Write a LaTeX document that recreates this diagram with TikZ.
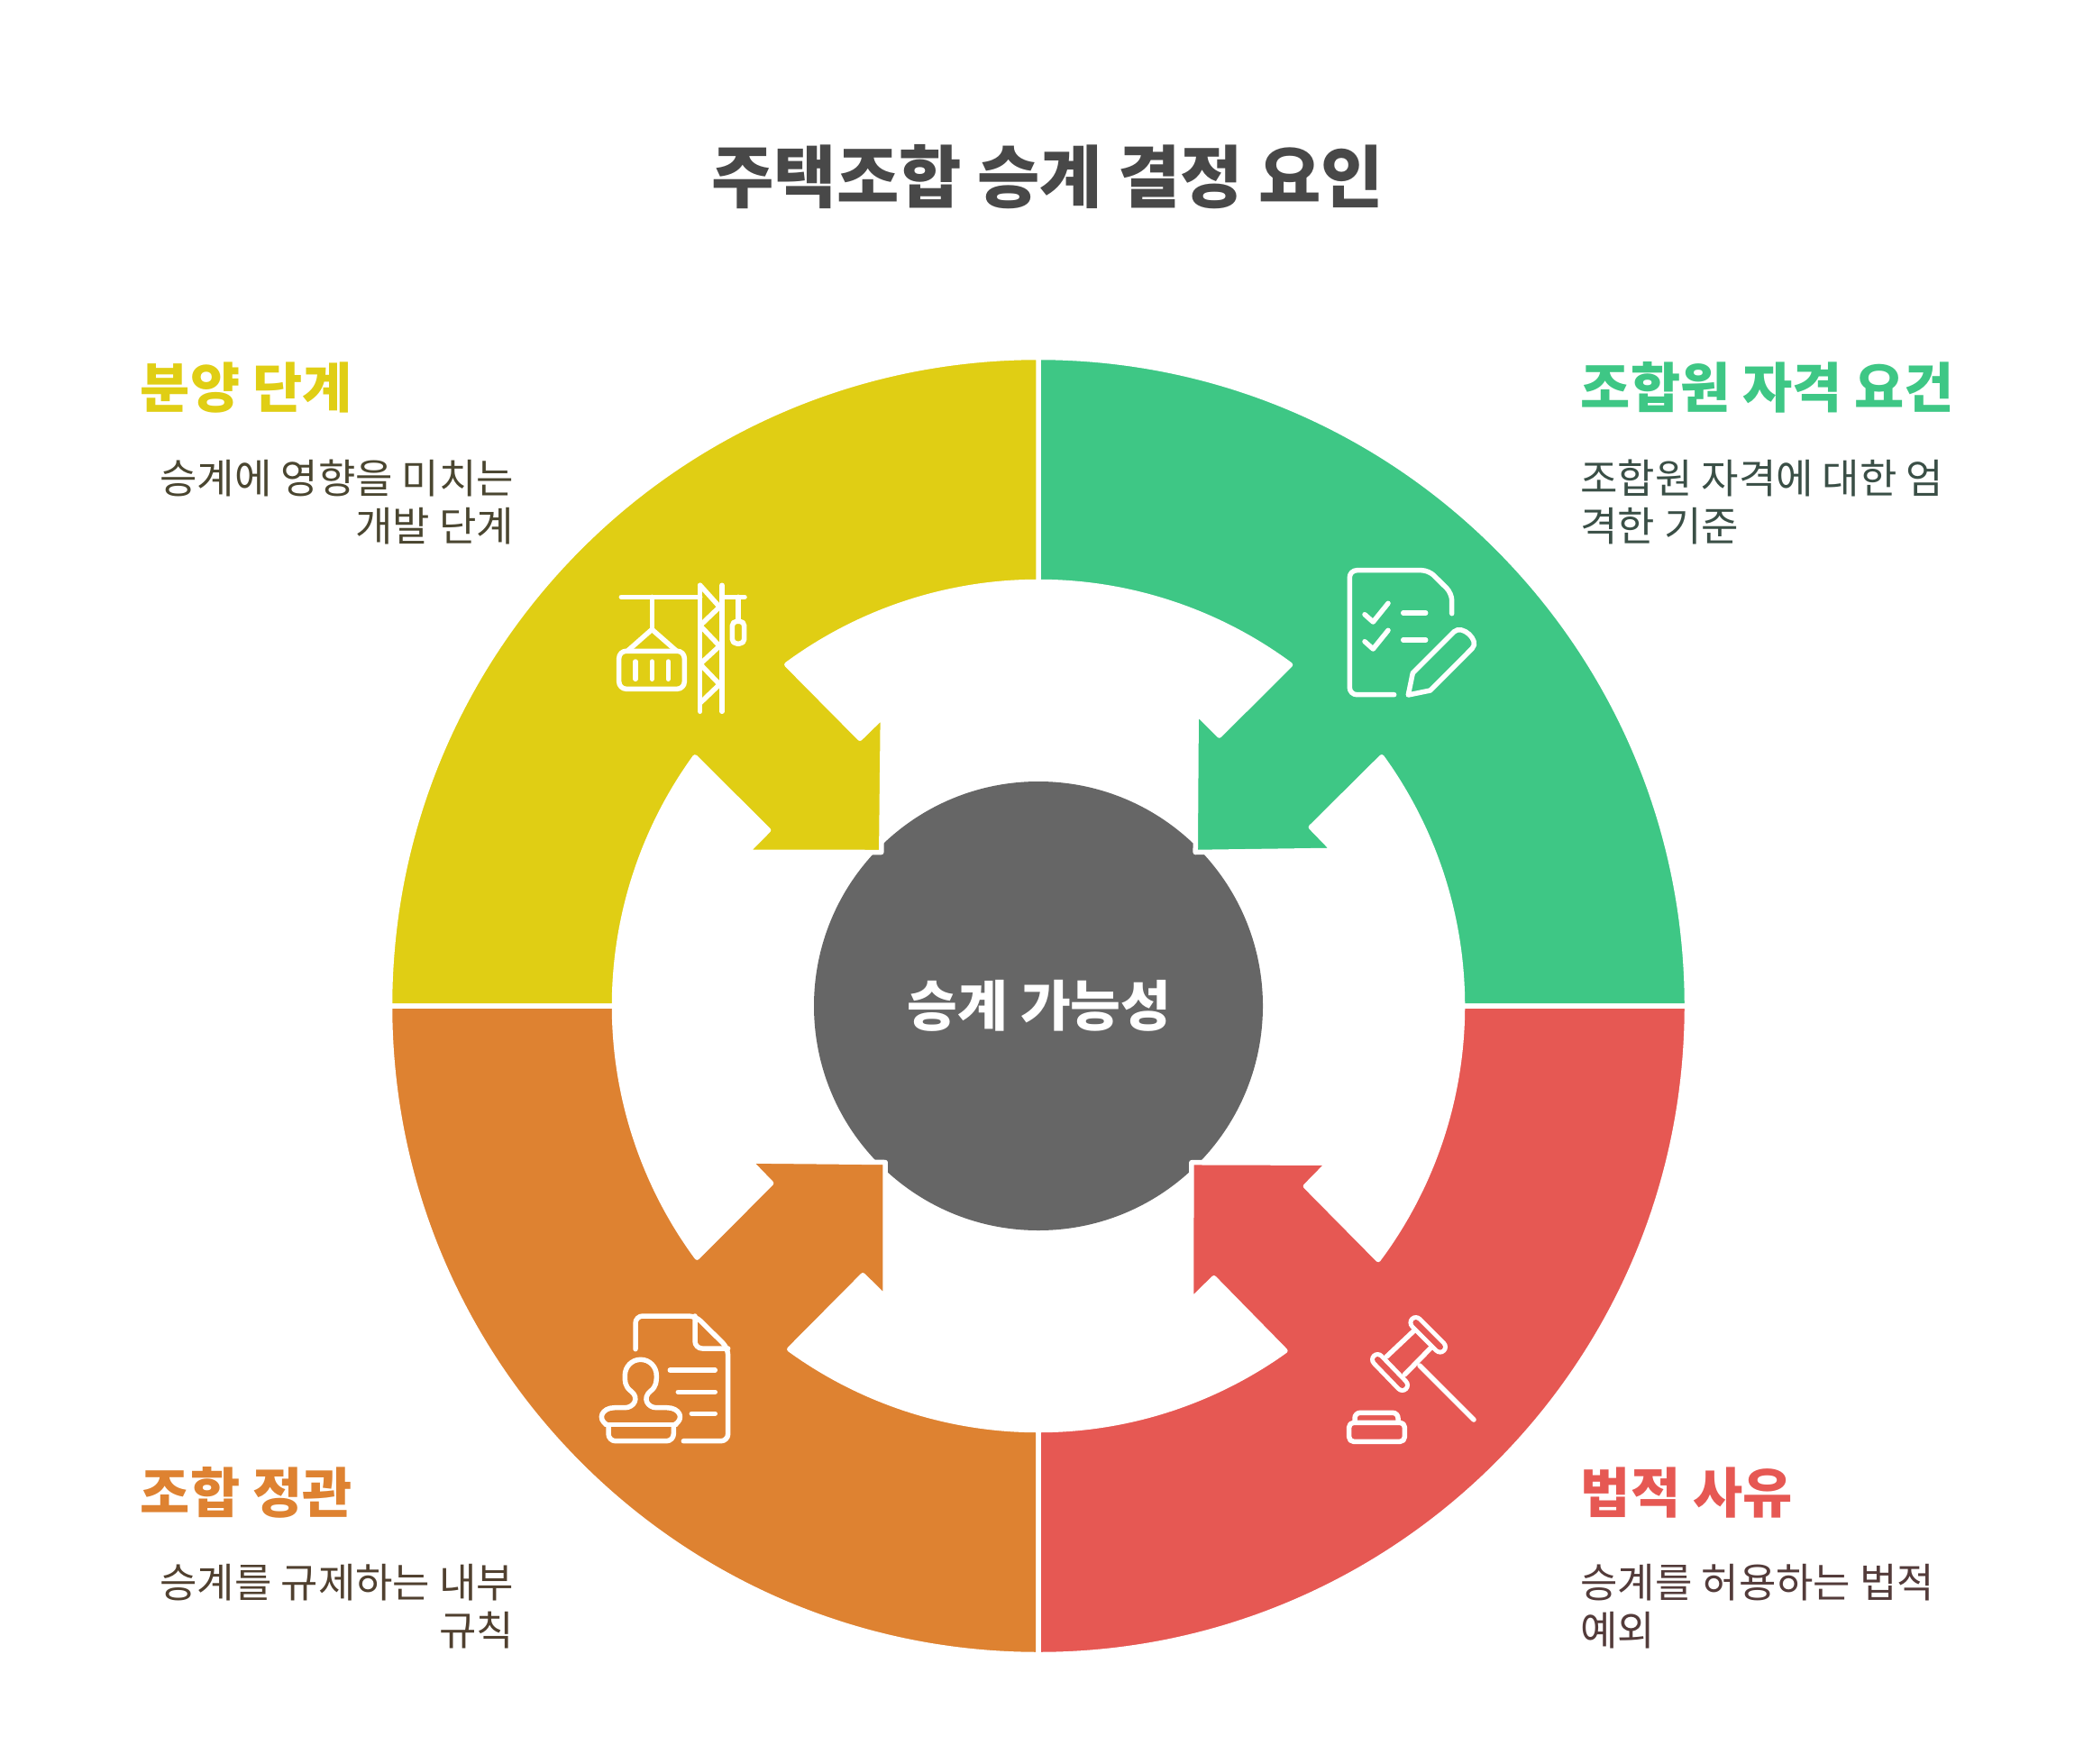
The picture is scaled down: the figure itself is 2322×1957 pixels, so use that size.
\documentclass[tikz,border=0pt]{standalone}
\usepackage{fontspec}
\usetikzlibrary{calc}
\setmainfont{Noto Sans CJK KR}
\definecolor{cgreen}{HTML}{3EC785}
\definecolor{cyellow}{HTML}{E0CE14}
\definecolor{corange}{HTML}{DE8231}
\definecolor{cred}{HTML}{E65853}
\definecolor{cgray}{HTML}{666666}
\definecolor{ctitle}{HTML}{484848}
\definecolor{tyellow}{HTML}{4A4630}
\definecolor{tgreen}{HTML}{3A4F46}
\definecolor{torange}{HTML}{50402F}
\definecolor{tred}{HTML}{533B3A}
\tikzset{
 seg/.style={draw=white,line width=2.75pt,line join=round},
 icn/.style={draw=white,line width=2.75pt,line cap=round,line join=round},
 headw/.style={anchor=base west,inner sep=0pt,font=\fontsize{30pt}{36pt}\selectfont\bfseries},
 bodyw/.style={anchor=base west,inner sep=0pt,font=\fontsize{22.5pt}{27pt}\selectfont},
 bodye/.style={anchor=base east,inner sep=0pt,font=\fontsize{22.5pt}{27pt}\selectfont}
}
\begin{document}
\begin{tikzpicture}[x=0.5pt,y=-0.5pt]
\useasboundingbox (0,0) rectangle (2322,1957);
\fill[white] (0,0) rectangle (2322,1957);
\coordinate (c) at (1152,1116);
\def\RO{359.75pt}
\def\RI{235.25pt}
\node[circle,fill=cgray,inner sep=0pt,minimum size=249pt] (hub) at (c) {};
% segments
\path[seg,fill=cgreen] ($(c)+(90:\RO)$) arc[start angle=90,end angle=0,radius=\RO]
 -- ($(c)+(0:\RI)$) arc[start angle=0,end angle=35.95,radius=\RI]
 -- (1454.4,917.7) -- (1479.3,943.4) -- (1326.2,945.5) -- (1327.2,790.6) -- (1352.7,816)
 -- ($(c)+(53.55:\RI)$) arc[start angle=53.55,end angle=90,radius=\RI] -- cycle;
\path[seg,fill=cyellow] ($(c)+(90:\RO)$) arc[start angle=90,end angle=180,radius=\RO]
 -- ($(c)+(180:\RI)$) arc[start angle=180,end angle=144.07,radius=\RI]
 -- (852.55,921) -- (828.4,945.45) -- (977.8,945.5) -- (979.4,794.4) -- (954,819.3)
 -- ($(c)+(126.4:\RI)$) arc[start angle=126.4,end angle=90,radius=\RI] -- cycle;
\path[seg,fill=corange] ($(c)+(180:\RO)$) arc[start angle=180,end angle=270,radius=\RO]
 -- ($(c)+(270:\RI)$) arc[start angle=270,end angle=234.05,radius=\RI]
 -- (957.3,1414.75) -- (982.05,1439.3) -- (982.2,1289.5) -- (831.7,1288) -- (855.55,1312.7)
 -- ($(c)+(216.4:\RI)$) arc[start angle=216.4,end angle=180,radius=\RI] -- cycle;
\path[seg,fill=cred] ($(c)+(0:\RO)$) arc[start angle=0,end angle=-90,radius=\RO]
 -- ($(c)+(-90:\RI)$) arc[start angle=-90,end angle=-54.4,radius=\RI]
 -- (1346.7,1417.75) -- (1321.55,1442.6) -- (1321.85,1289.7) -- (1473.7,1290.2) -- (1448.45,1316)
 -- ($(c)+(-36.75:\RI)$) arc[start angle=-36.75,end angle=0,radius=\RI] -- cycle;
\node[inner sep=0pt,text=white,font=\fontsize{30.3pt}{36pt}\selectfont\bfseries] (hublabel) at (1153,1116) {승계 가능성};
% green icon
\draw[icn,rounded corners=4pt] (1546.7,770.7) -- (1497.3,770.7) -- (1497.3,632.7) -- (1585,632.7) -- (1610.7,658.3) -- (1610.7,680.7);
\draw[icn] (1514,681.7) -- (1523.3,690) -- (1540,669.3);
\draw[icn] (1514,711.7) -- (1523.3,720) -- (1540,699.3);
\draw[icn] (1556.7,680) -- (1581.7,680);
\draw[icn] (1556.7,710) -- (1581.7,710);
\draw[icn] (1562.3,771) -- (1567.3,746.7) -- (1613.3,700.7) .. controls (1622,692.5) and (1642,710.5) .. (1633.3,719.3) -- (1586.7,766) -- cycle;
% yellow icon
\draw[icn] (689.3,662.3) -- (776.7,662.3);
\draw[icn] (801,662.3) -- (826,662.3);
\draw[icn] (776.7,649.3) -- (776.7,789.3);
\draw[icn] (801,649.3) -- (801,789.3);
\draw[icn] (776.7,649.3) -- (798.3,673.3) -- (776.7,694) -- (798.3,716.7) -- (776.7,736.7) -- (798.3,759.3) -- (776.7,780);
\draw[icn] (723.3,662.3) -- (723.3,698.3);
\draw[icn] (696.7,721.7) -- (723.3,698.3) -- (750,721.7);
\draw[icn,rounded corners=4pt] (686.7,722.3) rectangle (759.3,764.3);
\draw[icn] (705,734) -- (705,753.3);
\draw[icn] (723.3,734) -- (723.3,753.3);
\draw[icn] (741.3,734) -- (741.3,753.3);
\draw[icn] (819,662.3) -- (819,689.3);
\draw[icn,rounded corners=2.5pt] (812.3,689.3) rectangle (825.7,714);
% orange icon
\draw[icn,rounded corners=4pt] (705,1496.7) -- (705,1460) -- (771.7,1460) -- (807.7,1495.7) -- (807.7,1598.7) -- (758.3,1598.7);
\draw[icn,rounded corners=4pt] (771,1460) -- (771,1496) -- (807.7,1496);
\draw[icn] (743.3,1520) -- (793.3,1520);
\draw[icn] (752.3,1544.3) -- (793.3,1544.3);
\draw[icn] (767.3,1568.3) -- (793.3,1568.3);
\draw[icn] (672,1580.7) -- (750,1580.7);
\draw[icn,rounded corners=4pt] (675,1580.7) -- (675,1598.7) -- (747.3,1598.7) -- (747.3,1580.7);
\draw[icn] (673.3,1580.7) .. controls (662,1574) and (668,1561.7) .. (681.7,1561.7) -- (693.3,1561.7)
 .. controls (703,1561.7) and (710,1551) .. (700,1543.3)
 .. controls (693,1538) and (693.3,1532) .. (693.3,1526)
 .. controls (693.3,1516) and (701,1508.3) .. (710.7,1508.3)
 .. controls (720.4,1508.3) and (728.3,1516) .. (728.3,1526)
 .. controls (728.3,1532) and (728.5,1538) .. (721.7,1543.3)
 .. controls (712,1551) and (718.5,1561.7) .. (728.3,1561.7) -- (740,1561.7)
 .. controls (754,1561.7) and (760,1574) .. (748.3,1580.7);
% red icon
\draw[icn] (1575,1515) -- (1635,1575);
\draw[draw=white,line width=8.3pt,line cap=round] (1570.7,1467.3) -- (1597.7,1494.3);
\draw[draw=cred,line width=3.3pt,line cap=round] (1570.7,1467.3) -- (1597.7,1494.3);
\draw[draw=white,line width=8.3pt,line cap=round] (1528.3,1508.3) -- (1555.7,1536.7);
\draw[draw=cred,line width=3.3pt,line cap=round] (1528.3,1508.3) -- (1555.7,1536.7);
\draw[icn] (1568.3,1476.7) -- (1538.3,1505);
\draw[icn] (1586.7,1496) -- (1558.3,1525);
\draw[icn,rounded corners=3pt] (1503,1578.3) -- (1503,1567.3) -- (1551,1567.3) -- (1551,1578.3);
\draw[icn,rounded corners=2.5pt] (1496.7,1578.3) rectangle (1558.3,1599.3);
% text
\node[anchor=base,inner sep=0pt,text=ctitle,font=\fontsize{37.7pt}{44pt}\selectfont\bfseries] (title) at (1162,225) {주택조합 승계 결정 요인};
\node[headw,text=cyellow] (h1) at (155.5,453) {분양 단계};
\node[bodye,text=tyellow] (b1a) at (570.5,547.5) {승계에 영향을 미치는};
\node[bodye,text=tyellow] (b1b) at (570.5,600.5) {개발 단계};
\node[headw,text=cgreen] (h2) at (1753.5,453) {조합원 자격 요건};
\node[bodyw,text=tgreen] (b2a) at (1753,547.5) {조합원 자격에 대한 엄};
\node[bodyw,text=tgreen] (b2b) at (1753,600.5) {격한 기준};
\node[headw,text=corange] (h3) at (155.5,1678) {조합 정관};
\node[bodye,text=torange] (b3a) at (570.5,1772.5) {승계를 규제하는 내부};
\node[bodye,text=torange] (b3b) at (570.5,1825.5) {규칙};
\node[headw,text=cred] (h4) at (1753.5,1678) {법적 사유};
\node[bodyw,text=tred] (b4a) at (1753,1772.5) {승계를 허용하는 법적};
\node[bodyw,text=tred] (b4b) at (1753,1825.5) {예외};
\end{tikzpicture}
\end{document}
